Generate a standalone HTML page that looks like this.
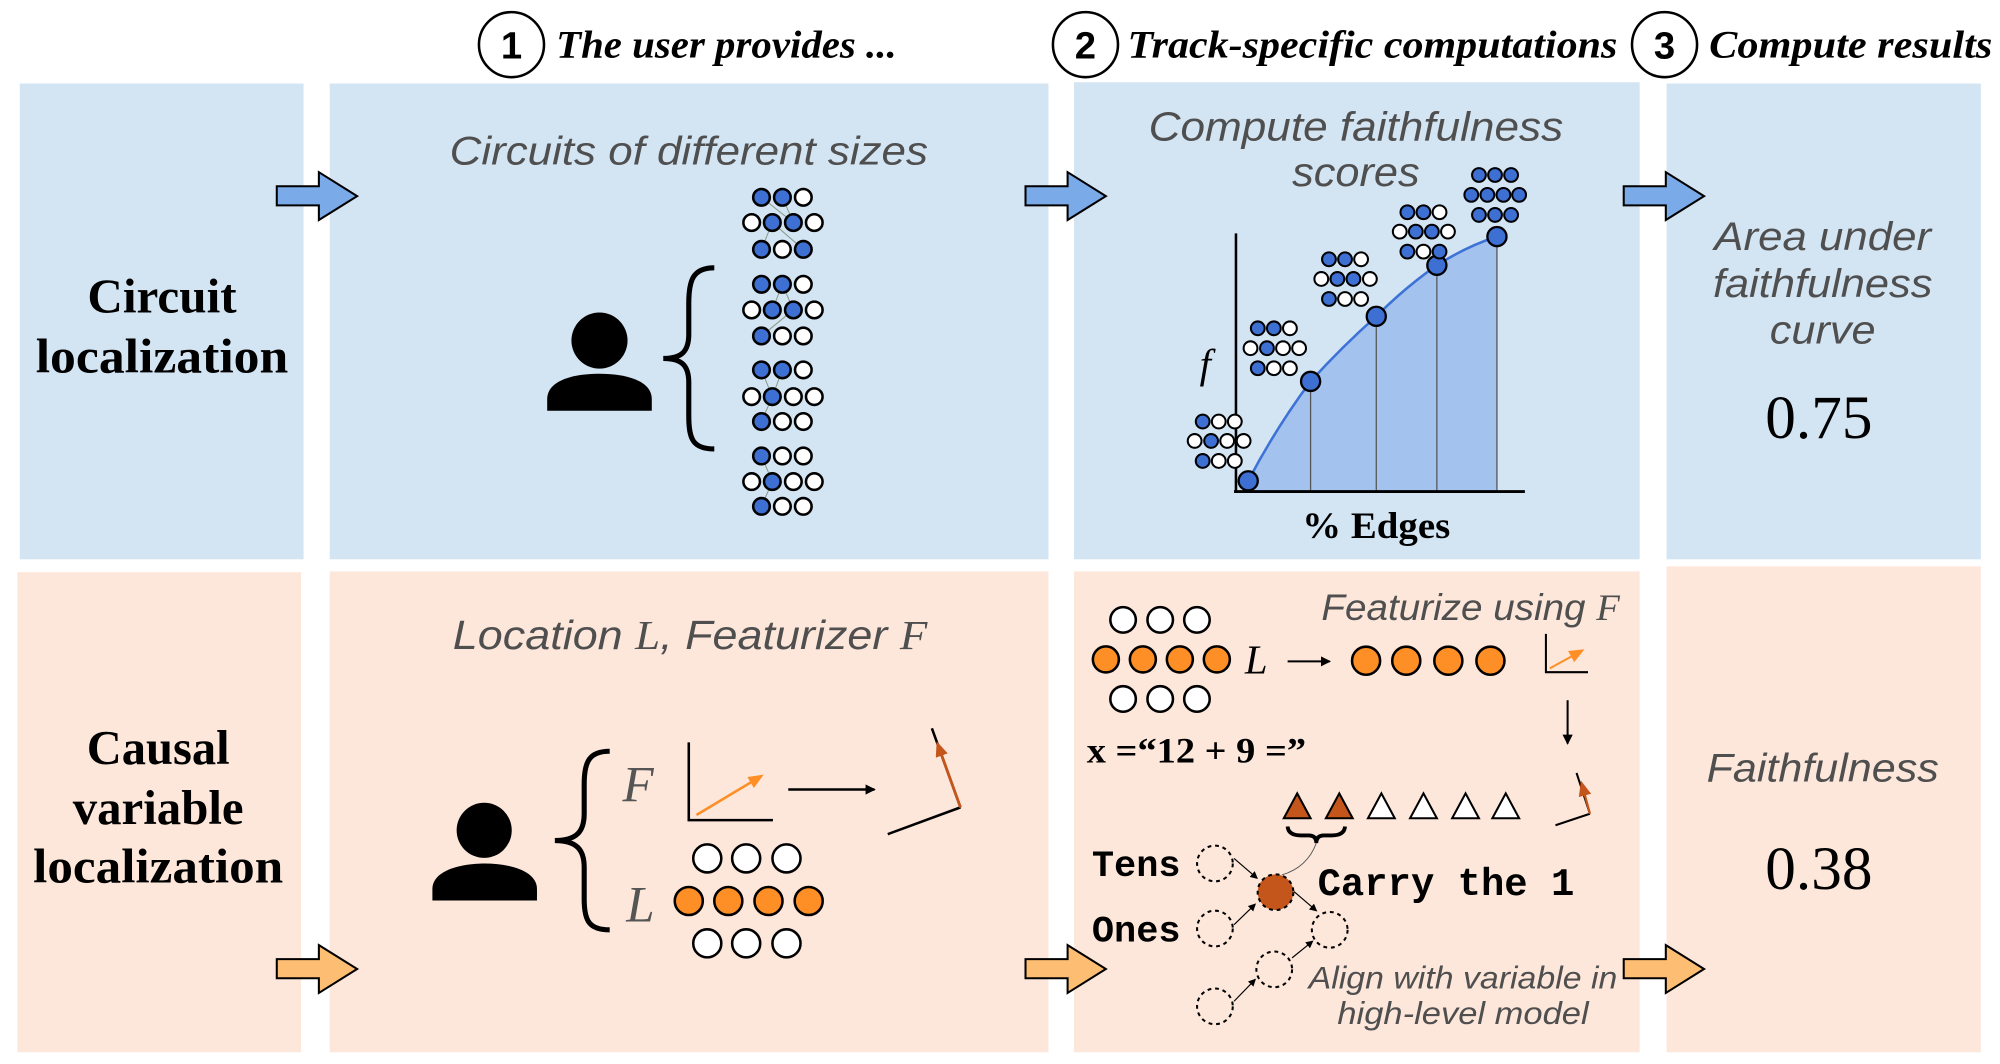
<!DOCTYPE html>
<html><head><meta charset="utf-8">
<style>
html,body{margin:0;padding:0;background:#fff;}
svg{display:block;}
.b{fill:#3d70d2;stroke:#000;stroke-width:1.6}
.w{fill:#fff;stroke:#000;stroke-width:1.6}
.bs{fill:#3d70d2;stroke:#000;stroke-width:2}
.ws{fill:#fff;stroke:#000;stroke-width:2}
.o{fill:#fd8f26;stroke:#000;stroke-width:2}
.wo{fill:#fff;stroke:#000;stroke-width:2}
.gt{font-family:"Liberation Sans",sans-serif;font-style:italic;fill:#4f4f4f;}
.hd{font-family:"Liberation Serif",serif;font-style:italic;font-weight:bold;fill:#000;}
.lb{font-family:"Liberation Serif",serif;font-weight:bold;fill:#000;text-anchor:middle;}
.mono{font-family:"Liberation Mono",monospace;font-weight:bold;fill:#000;}
.d{fill:none;stroke:#000;stroke-width:1.6;stroke-dasharray:3 3}
</style></head>
<body>
<svg width="2000" height="1064" viewBox="0 0 1568 834.2" preserveAspectRatio="none" xmlns="http://www.w3.org/2000/svg">
<defs>
<marker id="ah" markerWidth="8" markerHeight="8" refX="7" refY="4" orient="auto" markerUnits="userSpaceOnUse"><path d="M0,0 L8,4 L0,8 Z" fill="#000"/></marker>
<marker id="ahs" markerWidth="6" markerHeight="6" refX="5" refY="3" orient="auto" markerUnits="userSpaceOnUse"><path d="M0,0 L6,3 L0,6 Z" fill="#000"/></marker>
<marker id="aho" markerWidth="12" markerHeight="10" refX="10" refY="5" orient="auto" markerUnits="userSpaceOnUse"><path d="M0,0 L12,5 L0,10 Z" fill="#fd8f26"/></marker>
<marker id="ahr" markerWidth="12" markerHeight="10" refX="10" refY="5" orient="auto" markerUnits="userSpaceOnUse"><path d="M0,0 L12,5 L0,10 Z" fill="#c4561b"/></marker>
</defs>
<rect width="1568" height="834.2" fill="#fff"/>
<rect x="15.5" y="65.5" width="222.5" height="373" fill="#d3e4f3"/>
<rect x="258.5" y="65.5" width="563.5" height="373" fill="#d3e4f3"/>
<rect x="842" y="64.5" width="443.5" height="374" fill="#d3e4f3"/>
<rect x="1306.6" y="65.5" width="246.4" height="373" fill="#d3e4f3"/>
<rect x="13.6" y="448.6" width="222.4" height="376.4" fill="#fde7db"/>
<rect x="258.5" y="448" width="563.5" height="377" fill="#fde7db"/>
<rect x="842" y="448" width="443.5" height="377" fill="#fde7db"/>
<rect x="1306.6" y="444" width="246.4" height="381" fill="#fde7db"/>

<circle cx="401" cy="35" r="25.5" fill="#fff" stroke="#000" stroke-width="2"/>
<text x="401" y="46" text-anchor="middle" font-family="Liberation Sans,sans-serif" font-weight="bold" font-size="30">1</text>
<text class="hd" x="436" y="45" font-size="31" textLength="267" lengthAdjust="spacingAndGlyphs">The user provides ...</text>
<circle cx="851" cy="35" r="25.5" fill="#fff" stroke="#000" stroke-width="2"/>
<text x="851" y="46" text-anchor="middle" font-family="Liberation Sans,sans-serif" font-weight="bold" font-size="30">2</text>
<text class="hd" x="884" y="45" font-size="31" textLength="384" lengthAdjust="spacingAndGlyphs">Track-specific computations</text>
<circle cx="1305" cy="35" r="25.5" fill="#fff" stroke="#000" stroke-width="2"/>
<text x="1305" y="46" text-anchor="middle" font-family="Liberation Sans,sans-serif" font-weight="bold" font-size="30">3</text>
<text class="hd" x="1340" y="45" font-size="31" textLength="222" lengthAdjust="spacingAndGlyphs">Compute results</text>

<text class="lb" x="127" y="245" font-size="38" textLength="117" lengthAdjust="spacingAndGlyphs">Circuit</text>
<text class="lb" x="127" y="292" font-size="38" textLength="198" lengthAdjust="spacingAndGlyphs">localization</text>
<text class="lb" x="124" y="599" font-size="38" textLength="112" lengthAdjust="spacingAndGlyphs">Causal</text>
<text class="lb" x="124" y="646" font-size="38" textLength="134" lengthAdjust="spacingAndGlyphs">variable</text>
<text class="lb" x="124" y="692" font-size="38" textLength="196" lengthAdjust="spacingAndGlyphs">localization</text>

<g stroke="#000" stroke-width="1.6" fill="#7aaae8">
<polygon points="217,146 250,146 250,135 280,153.75 250,172.5 250,161 217,161"/>
<polygon transform="translate(587,0)" points="217,146 250,146 250,135 280,153.75 250,172.5 250,161 217,161"/>
<polygon transform="translate(1056,0)" points="217,146 250,146 250,135 280,153.75 250,172.5 250,161 217,161"/>
</g>
<g stroke="#000" stroke-width="1.6" fill="#fdbd72">
<polygon transform="translate(0,606)" points="217,146 250,146 250,135 280,153.75 250,172.5 250,161 217,161"/>
<polygon transform="translate(587,606)" points="217,146 250,146 250,135 280,153.75 250,172.5 250,161 217,161"/>
<polygon transform="translate(1056,606)" points="217,146 250,146 250,135 280,153.75 250,172.5 250,161 217,161"/>
</g>

<text class="gt" x="540" y="129" font-size="31" text-anchor="middle" textLength="375" lengthAdjust="spacingAndGlyphs">Circuits of different sizes</text>
<circle cx="470" cy="267" r="22"/>
<path d="M429,322 L429,313 C429,298 450,293 470,293 C490,293 511,298 511,313 L511,322 Z"/>
<path d="M560,210 C543,210 540,220 540,238 L540,262 C540,275 535,281 520,281 C535,281 540,287 540,300 L540,326 C540,344 543,352 560,352" fill="none" stroke="#000" stroke-width="4"/>
<g stroke="#8a9a8a" stroke-width="0.8">
<line x1="597" y1="195.5" x2="605.5" y2="174.5"/><line x1="629.8" y1="195.5" x2="605.5" y2="174.5"/><line x1="613.4" y1="154.7" x2="622" y2="174.5"/><line x1="597" y1="154.7" x2="622" y2="174.5"/>
<line x1="597" y1="263.4" x2="622" y2="243"/><line x1="605.5" y1="243" x2="613.4" y2="222.9"/><line x1="622" y1="243" x2="613.4" y2="222.9"/>
<line x1="597" y1="330.5" x2="605.5" y2="311"/><line x1="605.5" y1="311" x2="613.4" y2="290"/><line x1="605.5" y1="311" x2="597" y2="290"/>
<line x1="597" y1="397" x2="605.5" y2="377.6"/><line x1="605.5" y1="377.6" x2="597" y2="357.5"/>
</g>
<g>
<circle class="bs" cx="597" cy="154.7" r="6.5"/><circle class="bs" cx="613.4" cy="154.7" r="6.5"/><circle class="ws" cx="629.8" cy="154.7" r="6.5"/>
<circle class="ws" cx="589.3" cy="174.5" r="6.5"/><circle class="bs" cx="605.5" cy="174.5" r="6.5"/><circle class="bs" cx="622" cy="174.5" r="6.5"/><circle class="ws" cx="638.4" cy="174.5" r="6.5"/>
<circle class="bs" cx="597" cy="195.5" r="6.5"/><circle class="ws" cx="613.4" cy="195.5" r="6.5"/><circle class="bs" cx="629.8" cy="195.5" r="6.5"/>
<circle class="bs" cx="597" cy="222.9" r="6.5"/><circle class="bs" cx="613.4" cy="222.9" r="6.5"/><circle class="ws" cx="629.8" cy="222.9" r="6.5"/>
<circle class="ws" cx="589.3" cy="243" r="6.5"/><circle class="bs" cx="605.5" cy="243" r="6.5"/><circle class="bs" cx="622" cy="243" r="6.5"/><circle class="ws" cx="638.4" cy="243" r="6.5"/>
<circle class="bs" cx="597" cy="263.4" r="6.5"/><circle class="ws" cx="613.4" cy="263.4" r="6.5"/><circle class="ws" cx="629.8" cy="263.4" r="6.5"/>
<circle class="bs" cx="597" cy="290" r="6.5"/><circle class="bs" cx="613.4" cy="290" r="6.5"/><circle class="ws" cx="629.8" cy="290" r="6.5"/>
<circle class="ws" cx="589.3" cy="311" r="6.5"/><circle class="bs" cx="605.5" cy="311" r="6.5"/><circle class="ws" cx="622" cy="311" r="6.5"/><circle class="ws" cx="638.4" cy="311" r="6.5"/>
<circle class="bs" cx="597" cy="330.5" r="6.5"/><circle class="ws" cx="613.4" cy="330.5" r="6.5"/><circle class="ws" cx="629.8" cy="330.5" r="6.5"/>
<circle class="bs" cx="597" cy="357.5" r="6.5"/><circle class="ws" cx="613.4" cy="357.5" r="6.5"/><circle class="ws" cx="629.8" cy="357.5" r="6.5"/>
<circle class="ws" cx="589.3" cy="377.6" r="6.5"/><circle class="bs" cx="605.5" cy="377.6" r="6.5"/><circle class="ws" cx="622" cy="377.6" r="6.5"/><circle class="ws" cx="638.4" cy="377.6" r="6.5"/>
<circle class="bs" cx="597" cy="397" r="6.5"/><circle class="ws" cx="613.4" cy="397" r="6.5"/><circle class="ws" cx="629.8" cy="397" r="6.5"/>
</g>

<text class="gt" x="1063" y="110" font-size="32" text-anchor="middle" textLength="325" lengthAdjust="spacingAndGlyphs">Compute faithfulness</text>
<text class="gt" x="1063" y="146" font-size="32" text-anchor="middle" textLength="100" lengthAdjust="spacingAndGlyphs">scores</text>
<path d="M978.6,385 L978.6,377 Q1000,336 1027.5,299 Q1052,272 1079,248 Q1102,225 1126.5,208 Q1150,193 1173.6,185.5 L1173.6,385 Z" fill="#a3c3ee"/>
<path d="M978.6,377 Q1000,336 1027.5,299 Q1052,272 1079,248 Q1102,225 1126.5,208 Q1150,193 1173.6,185.5" fill="none" stroke="#3d72d6" stroke-width="2"/>
<g stroke="#555" stroke-width="1">
<line x1="1027.5" y1="299" x2="1027.5" y2="385"/><line x1="1079" y1="248" x2="1079" y2="385"/><line x1="1126.5" y1="208" x2="1126.5" y2="385"/><line x1="1173.6" y1="185.5" x2="1173.6" y2="385"/>
</g>
<line x1="969" y1="183" x2="969" y2="386" stroke="#000" stroke-width="2"/>
<line x1="967.5" y1="385.4" x2="1195.5" y2="385.4" stroke="#000" stroke-width="2.2"/>
<text x="945" y="296" font-family="Liberation Serif,serif" font-style="italic" font-size="32" text-anchor="middle">f</text>
<text class="lb" x="1079" y="422" font-size="29" textLength="116" lengthAdjust="spacingAndGlyphs">% Edges</text>
<g stroke="#000" stroke-width="1.8" fill="#3d70d2">
<circle cx="978.6" cy="377" r="7.5"/><circle cx="1027.5" cy="299" r="7.5"/><circle cx="1079" cy="248" r="7.5"/><circle cx="1126.5" cy="208" r="7.5"/><circle cx="1173.6" cy="185.5" r="7.5"/>
</g>
<g>
<circle class="b" cx="942.9" cy="330.5" r="5.4"/><circle class="w" cx="955.5" cy="330.5" r="5.4"/><circle class="w" cx="968.1" cy="330.5" r="5.4"/>
<circle class="w" cx="936.6" cy="345.7" r="5.4"/><circle class="b" cx="949.5" cy="345.7" r="5.4"/><circle class="w" cx="962.1" cy="345.7" r="5.4"/><circle class="w" cx="975" cy="345.7" r="5.4"/>
<circle class="b" cx="942.9" cy="361.4" r="5.4"/><circle class="w" cx="955.5" cy="361.4" r="5.4"/><circle class="w" cx="968.1" cy="361.4" r="5.4"/>
<circle class="b" cx="986.1" cy="257.4" r="5.4"/><circle class="b" cx="998.7" cy="257.4" r="5.4"/><circle class="w" cx="1011.3" cy="257.4" r="5.4"/>
<circle class="w" cx="980.4" cy="273" r="5.4"/><circle class="b" cx="993.3" cy="273" r="5.4"/><circle class="w" cx="1005.9" cy="273" r="5.4"/><circle class="w" cx="1018.5" cy="273" r="5.4"/>
<circle class="b" cx="986.1" cy="288.7" r="5.4"/><circle class="w" cx="998.7" cy="288.7" r="5.4"/><circle class="w" cx="1011.3" cy="288.7" r="5.4"/>
<circle class="b" cx="1041.9" cy="203.3" r="5.4"/><circle class="b" cx="1054.5" cy="203.3" r="5.4"/><circle class="w" cx="1067.1" cy="203.3" r="5.4"/>
<circle class="w" cx="1035.9" cy="218.7" r="5.4"/><circle class="b" cx="1048.5" cy="218.7" r="5.4"/><circle class="b" cx="1061.1" cy="218.7" r="5.4"/><circle class="w" cx="1074" cy="218.7" r="5.4"/>
<circle class="b" cx="1041.9" cy="234.4" r="5.4"/><circle class="w" cx="1054.5" cy="234.4" r="5.4"/><circle class="w" cx="1067.1" cy="234.4" r="5.4"/>
<circle class="b" cx="1103.4" cy="166.4" r="5.4"/><circle class="b" cx="1116" cy="166.4" r="5.4"/><circle class="w" cx="1128.6" cy="166.4" r="5.4"/>
<circle class="w" cx="1097.4" cy="181.6" r="5.4"/><circle class="b" cx="1110" cy="181.6" r="5.4"/><circle class="b" cx="1122.6" cy="181.6" r="5.4"/><circle class="w" cx="1135.2" cy="181.6" r="5.4"/>
<circle class="b" cx="1103.4" cy="197.3" r="5.4"/><circle class="w" cx="1116" cy="197.3" r="5.4"/><circle class="b" cx="1128.6" cy="197.3" r="5.4"/>
<circle class="b" cx="1159.5" cy="137.2" r="5.4"/><circle class="b" cx="1172.1" cy="137.2" r="5.4"/><circle class="b" cx="1184.7" cy="137.2" r="5.4"/>
<circle class="b" cx="1153.5" cy="152.8" r="5.4"/><circle class="b" cx="1166.1" cy="152.8" r="5.4"/><circle class="b" cx="1178.7" cy="152.8" r="5.4"/><circle class="b" cx="1191" cy="152.8" r="5.4"/>
<circle class="b" cx="1159.5" cy="168.5" r="5.4"/><circle class="b" cx="1172.1" cy="168.5" r="5.4"/><circle class="b" cx="1184.7" cy="168.5" r="5.4"/>
</g>

<text class="gt" x="1429" y="196" font-size="31" text-anchor="middle" textLength="170" lengthAdjust="spacingAndGlyphs">Area under</text>
<text class="gt" x="1429" y="233" font-size="31" text-anchor="middle" textLength="172" lengthAdjust="spacingAndGlyphs">faithfulness</text>
<text class="gt" x="1429" y="269.5" font-size="31" text-anchor="middle" textLength="83" lengthAdjust="spacingAndGlyphs">curve</text>
<text x="1426" y="343.5" font-family="Liberation Serif,serif" font-size="48" text-anchor="middle">0.75</text>

<text x="541" y="509" font-size="32" text-anchor="middle" class="gt" textLength="372" lengthAdjust="spacingAndGlyphs">Location <tspan font-family="Liberation Serif,serif">L</tspan>, Featurizer <tspan font-family="Liberation Serif,serif">F</tspan></text>
<circle cx="379.6" cy="651" r="21.6"/>
<path d="M339,706 L339,697 C339,683 360,677 380,677 C400,677 421,683 421,697 L421,706 Z"/>
<path d="M478,589 C462,589 458,597 458,615 L458,638 C458,652 452,659 435,659 C452,659 458,666 458,680 L458,705 C458,722 462,729 478,729" fill="none" stroke="#000" stroke-width="4"/>
<text x="488" y="628.5" font-family="Liberation Serif,serif" font-style="italic" font-size="40" fill="#555">F</text>
<text x="491" y="722.5" font-family="Liberation Serif,serif" font-style="italic" font-size="40" fill="#555">L</text>
<polyline points="540,582 540,643 606,643" fill="none" stroke="#000" stroke-width="2"/>
<line x1="546" y1="639" x2="597" y2="608.4" stroke="#fd8f26" stroke-width="2" marker-end="url(#aho)"/>
<line x1="618" y1="619" x2="685.6" y2="619" stroke="#000" stroke-width="2" marker-end="url(#ah)"/>
<line x1="696" y1="654" x2="753" y2="633" stroke="#000" stroke-width="2"/>
<line x1="753" y1="633" x2="730.6" y2="571" stroke="#000" stroke-width="2"/>
<line x1="753" y1="633" x2="735" y2="583" stroke="#c4561b" stroke-width="2.2" marker-end="url(#ahr)"/>
<g>
<circle class="wo" cx="554.5" cy="673" r="11"/><circle class="wo" cx="585" cy="673" r="11"/><circle class="wo" cx="616.6" cy="673" r="11"/>
<circle class="o" cx="540" cy="706.4" r="11"/><circle class="o" cx="571" cy="706.4" r="11"/><circle class="o" cx="602.5" cy="706.4" r="11"/><circle class="o" cx="634" cy="706.4" r="11"/>
<circle class="wo" cx="554.5" cy="739.6" r="11"/><circle class="wo" cx="585" cy="739.6" r="11"/><circle class="wo" cx="616.6" cy="739.6" r="11"/>
</g>

<g>
<circle class="wo" cx="880.5" cy="486" r="10"/><circle class="wo" cx="909.6" cy="486" r="10"/><circle class="wo" cx="938.4" cy="486" r="10"/>
<circle class="o" cx="867" cy="517" r="10.2"/><circle class="o" cx="896" cy="517" r="10.2"/><circle class="o" cx="925" cy="517" r="10.2"/><circle class="o" cx="954" cy="517" r="10.2"/>
<circle class="wo" cx="880.5" cy="548" r="10"/><circle class="wo" cx="909.6" cy="548" r="10"/><circle class="wo" cx="938.4" cy="548" r="10"/>
<circle class="o" cx="1071" cy="518" r="11"/><circle class="o" cx="1102.5" cy="518" r="11"/><circle class="o" cx="1135.5" cy="518" r="11"/><circle class="o" cx="1168.5" cy="518" r="11"/>
</g>
<text x="976" y="528" font-family="Liberation Serif,serif" font-style="italic" font-size="32">L</text>
<line x1="1009.5" y1="518.5" x2="1042.5" y2="518.5" stroke="#000" stroke-width="1.6" marker-end="url(#ah)"/>
<text x="1036" y="486" class="gt" font-size="29" textLength="234" lengthAdjust="spacingAndGlyphs">Featurize using <tspan font-family="Liberation Serif,serif">F</tspan></text>
<polyline points="1212,497 1212,527 1245,527" fill="none" stroke="#000" stroke-width="1.6"/>
<line x1="1215" y1="524" x2="1240.5" y2="510" stroke="#fd8f26" stroke-width="1.6" marker-end="url(#aho)"/>
<line x1="1229" y1="549" x2="1229" y2="583" stroke="#000" stroke-width="1.6" marker-end="url(#ah)"/>
<text x="852" y="598" font-family="Liberation Serif,serif" font-weight="bold" font-size="28" textLength="172" lengthAdjust="spacingAndGlyphs">x =“12 + 9 =”</text>
<g stroke="#000" stroke-width="1.6">
<polygon points="1006.5,641.5 1017,622 1027.5,641.5" fill="#c4561b"/>
<polygon points="1039.5,641.5 1050,622 1060.5,641.5" fill="#c4561b"/>
<polygon points="1072.5,641.5 1083,622 1093.5,641.5" fill="#fff"/>
<polygon points="1105.5,641.5 1116,622 1126.5,641.5" fill="#fff"/>
<polygon points="1138.5,641.5 1149,622 1159.5,641.5" fill="#fff"/>
<polygon points="1170,641.5 1180.5,622 1191,641.5" fill="#fff"/>
</g>
<path d="M1009.5,648 Q1010,655 1020,655 L1026,655 Q1032,655 1032,661 Q1032,655 1038,655 L1044,655 Q1054,655 1054.5,648" fill="none" stroke="#000" stroke-width="3"/>
<path d="M1032,661 Q1025,680 1005,686" fill="none" stroke="#555" stroke-width="0.7"/>
<line x1="1219.5" y1="647" x2="1246.5" y2="638" stroke="#000" stroke-width="1.6"/>
<line x1="1246.5" y1="638" x2="1236" y2="606" stroke="#000" stroke-width="1.6"/>
<line x1="1246.5" y1="638" x2="1240" y2="614" stroke="#c4561b" stroke-width="1.8" marker-end="url(#ahr)"/>
<text class="mono" x="856" y="687" font-size="29">Tens</text>
<text class="mono" x="856" y="738" font-size="29">Ones</text>
<text class="mono" x="1033" y="701.6" font-size="30.5">Carry the 1</text>
<circle class="d" cx="952.5" cy="677" r="14"/>
<circle class="d" cx="952.5" cy="728" r="14"/>
<circle class="d" cx="1042.5" cy="729" r="14"/>
<circle class="d" cx="999" cy="760" r="14"/>
<circle class="d" cx="952.5" cy="789" r="14"/>
<circle cx="1000" cy="699.5" r="14" fill="#c4561b" stroke="#000" stroke-width="1.6" stroke-dasharray="3 3"/>
<g stroke="#000" stroke-width="0.9">
<line x1="967.5" y1="673" x2="985.5" y2="688.5" marker-end="url(#ahs)"/>
<line x1="967.5" y1="725" x2="984" y2="709" marker-end="url(#ahs)"/>
<line x1="1014.5" y1="699" x2="1032" y2="714" marker-end="url(#ahs)"/>
<line x1="967.5" y1="785" x2="984" y2="768" marker-end="url(#ahs)"/>
<line x1="1013" y1="751" x2="1029" y2="738" marker-end="url(#ahs)"/>
</g>
<text class="gt" x="1026" y="775" font-size="25" textLength="242" lengthAdjust="spacingAndGlyphs">Align with variable in</text>
<text class="gt" x="1147" y="803" font-size="25" text-anchor="middle" textLength="197" lengthAdjust="spacingAndGlyphs">high-level model</text>

<text class="gt" x="1429" y="612.6" font-size="31" text-anchor="middle" textLength="182" lengthAdjust="spacingAndGlyphs">Faithfulness</text>
<text x="1426" y="697" font-family="Liberation Serif,serif" font-size="48" text-anchor="middle">0.38</text>
</svg>
</body></html>
